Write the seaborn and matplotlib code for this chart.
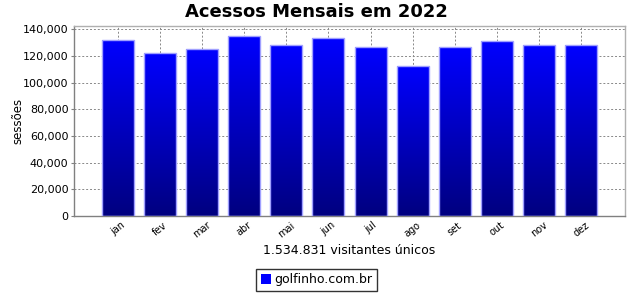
import numpy as np
import pandas as pd
import matplotlib
matplotlib.use("Agg")
import matplotlib.pyplot as plt
import seaborn as sns
from matplotlib.patches import Patch
from matplotlib.colors import LinearSegmentedColormap

meses = ["jan", "fev", "mar", "abr", "mai", "jun", "jul", "ago", "set", "out", "nov", "dez"]
sessoes = [132100, 122100, 125600, 135100, 128100, 133800, 126600, 112800, 126600, 131100, 128100, 128100]
titulo = "Acessos Mensais em 2022"
rotulo_x = "1.534.831 visitantes únicos"
rotulo_y = "sessões"
serie = "golfinho.com.br"

sns.set_style("white")
plt.rcParams['font.family'] = ['DejaVu Sans']
plt.rcParams['text.color'] = 'black'
plt.rcParams['axes.labelcolor'] = 'black'
plt.rcParams['xtick.color'] = 'black'
plt.rcParams['ytick.color'] = 'black'

df = pd.DataFrame({"mes": meses, "sessoes": sessoes})

fig = plt.figure(figsize=(6.33, 2.93), dpi=100)
ax = fig.add_axes([74/633, 1-216/293, (625-74)/633, (216-26)/293])

sns.barplot(data=df, x="mes", y="sessoes", ax=ax, color="blue", width=0.76,
            saturation=1, edgecolor="#a0a0ff", linewidth=1.0, zorder=3)

# gradient fill per bar
grad = np.linspace(0, 1, 256).reshape(-1, 1)
cmap = LinearSegmentedColormap.from_list("g", [(0, 0, 0.5), (0, 0, 1.0)])
for p in ax.patches:
    x0, y0 = p.get_x(), p.get_y()
    w, h = p.get_width(), p.get_height()
    im = ax.imshow(grad, extent=[x0, x0 + w, y0, y0 + h], origin="lower",
                   cmap=cmap, aspect="auto", zorder=2.5, interpolation="bilinear")
    im.set_clip_path(p)
    p.set_facecolor("none")

ax.set_xlim(-1.048, 12.048)
ax.set_ylim(0, 142600)
ax.set_yticks(np.arange(0, 140001, 20000))
ax.yaxis.set_major_formatter(matplotlib.ticker.FuncFormatter(lambda v, _: f"{int(v):,}"))
ax.grid(True, axis="both", color="#888888", linestyle=(0, (2, 2)), linewidth=0.7, zorder=0)
ax.set_axisbelow(True)

for s in ["top", "right"]:
    ax.spines[s].set_color("#b0b0b0")
for s in ["left", "bottom"]:
    ax.spines[s].set_color("#808080")
for s in ax.spines.values():
    s.set_linewidth(1.0)

ax.tick_params(axis="y", labelsize=8, length=2, color="#808080", pad=2, left=True)
ax.tick_params(axis="x", labelsize=7, length=0, pad=3, bottom=False)
plt.setp(ax.get_xticklabels(), rotation=38)
for lbl in ax.get_xticklabels():
    lbl.set_ha("center")

ax.set_xlabel(rotulo_x, fontsize=9, labelpad=3)
ax.set_ylabel(rotulo_y, fontsize=8.5, labelpad=-1.5)
fig.suptitle(titulo, fontsize=13, fontweight="bold", x=0.5, y=0.99)

leg = fig.legend(handles=[Patch(facecolor="blue", edgecolor="none")], labels=[serie],
                 loc="lower center", bbox_to_anchor=(0.5, 0.0), fontsize=9,
                 frameon=True, fancybox=False, edgecolor="black", handlelength=0.8,
                 handleheight=0.8, handletextpad=0.3, borderpad=0.35, borderaxespad=0.2)
leg.get_frame().set_linewidth(1.0)

fig.savefig("out.png", dpi=100)
